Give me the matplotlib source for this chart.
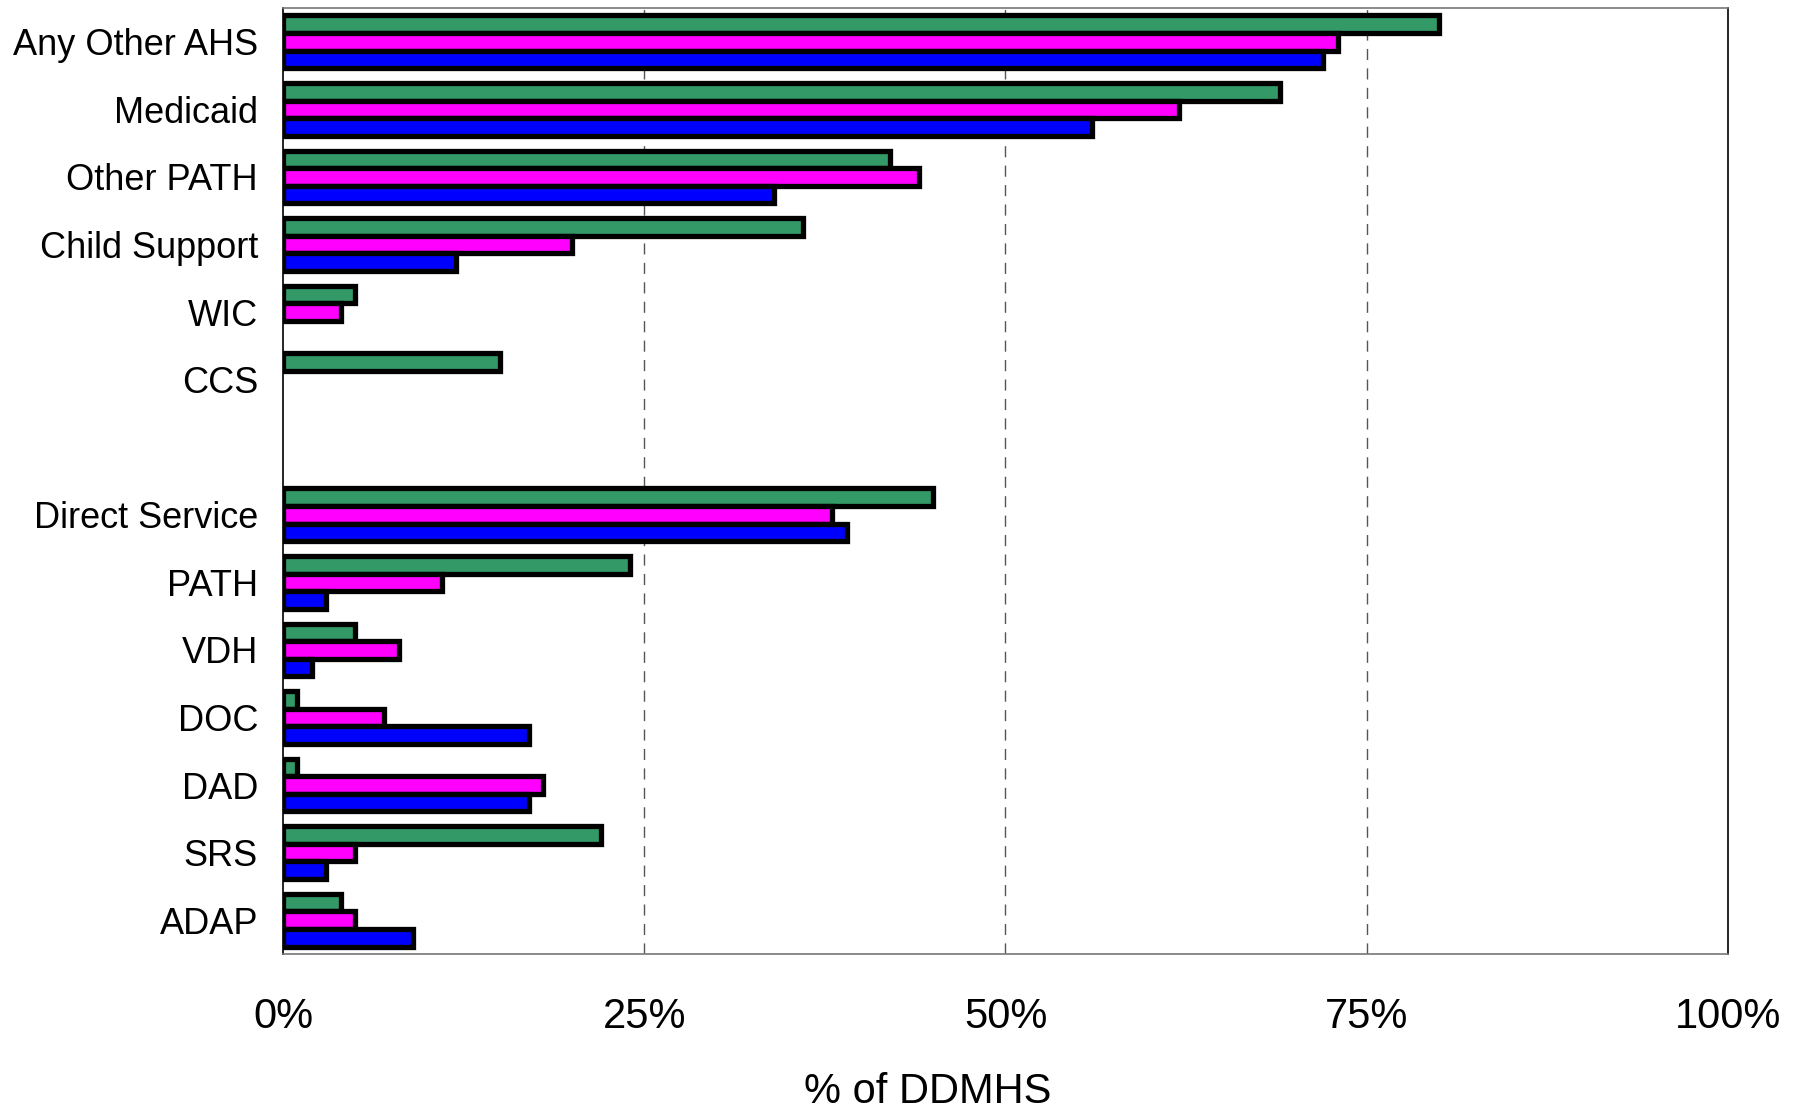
import numpy as np
import matplotlib
matplotlib.use("Agg")
import matplotlib.pyplot as plt

# Categories top to bottom; '' is the blank spacer row
categories = ["Any Other AHS", "Medicaid", "Other PATH", "Child Support", "WIC", "CCS", "",
              "Direct Service", "PATH", "VDH", "DOC", "DAD", "SRS", "ADAP"]
green_vals = [80, 69, 42, 36, 5, 15, 0, 45, 24, 5, 1, 1, 22, 4]
magenta_vals = [73, 62, 44, 20, 4, 0, 0, 38, 11, 8, 7, 18, 5, 5]
blue_vals = [72, 56, 34, 12, 0, 0, 0, 39, 3, 2, 17, 17, 3, 9]
xticks = [0, 25, 50, 75, 100]
xtick_labels = ["0%", "25%", "50%", "75%", "100%"]

plt.rcParams['font.family'] = ['Liberation Sans', 'DejaVu Sans']

fig = plt.figure(figsize=(18.06, 11.09), dpi=100)
ax = fig.add_axes([0.1567, 0.1398, 0.8001, 0.853])

y = np.arange(len(categories))
h = 0.26
series = [(green_vals, "#339966", -h), (magenta_vals, "#FF00FF", 0), (blue_vals, "#0000FF", h)]
for vals, col, off in series:
    vals = np.array(vals, dtype=float)
    mask = vals > 0
    ax.barh(y[mask] + off, vals[mask], height=h, color=col,
            edgecolor="black", linewidth=3.8, zorder=3)

for gx in xticks[1:-1]:
    ax.axvline(gx, color="#555555", linestyle=(0, (8, 6)), linewidth=1.0, zorder=1)

ax.set_xlim(0, 100)
ax.set_ylim(len(categories) - 0.5, -0.5)
ax.set_yticks(y)
ax.set_yticklabels(categories, fontsize=26)
ax.set_xticks(xticks)
ax.set_xticklabels(xtick_labels, fontsize=30)
ax.tick_params(axis="both", length=0)
ax.tick_params(axis="x", pad=31)
ax.tick_params(axis="y", pad=18)
ax.set_xlabel("% of DDMHS", fontsize=30, labelpad=22)
# the title sits left of the axes centre in the original
ax.xaxis.set_label_coords(0.446, -0.125)

for s in ax.spines.values():
    s.set_color("black")
    s.set_linewidth(1.2)
ax.spines["top"].set_color("#777777")
ax.spines["bottom"].set_color("#777777")

fig.savefig("out.png", dpi=100)
